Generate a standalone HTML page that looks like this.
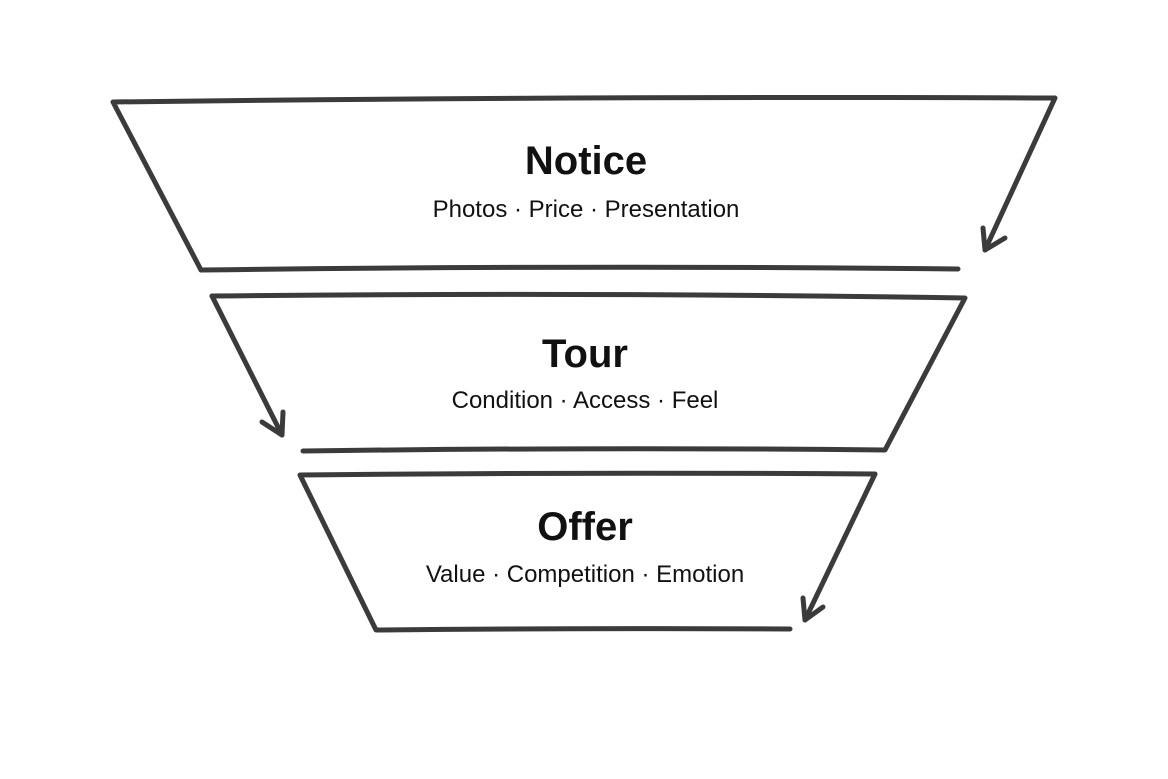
<!DOCTYPE html>
<html><head><meta charset="utf-8"><style>
html,body{margin:0;padding:0;background:#fff;}
svg{display:block;}
text{font-family:"Liberation Sans",sans-serif;fill:#111;text-anchor:middle;}
.t{font-size:40px;font-weight:bold;}
.s{font-size:24px;}
</style></head><body>
<svg width="1168" height="779" viewBox="0 0 1168 779" xmlns="http://www.w3.org/2000/svg">
<g fill="none" stroke="#3b3b3b" stroke-width="5" stroke-linecap="round" stroke-linejoin="round">
<!-- top -->
<path d="M201,270 L113,102 Q580,96 1055,98 L985,250"/>
<path d="M201,270 Q580,265 958,269"/>
<path d="M983,228 L985,250 L1005,238"/>
<!-- middle -->
<path d="M212,296 Q590,292 965,298 L885,450 Q600,447 303,451"/>
<path d="M212,296 L282,435"/>
<path d="M262,422 L282,435 L283,412"/>
<!-- bottom -->
<path d="M875,474 Q590,472 300,475 L376,630 Q590,628 790,629"/>
<path d="M875,474 L805,620"/>
<path d="M803,598 L805,620 L823,607"/>
</g>
<text class="t" x="586" y="174">Notice</text>
<text class="s" x="586" y="217">Photos · Price · Presentation</text>
<text class="t" x="585" y="367">Tour</text>
<text class="s" x="585" y="408">Condition · Access · Feel</text>
<text class="t" x="585" y="540">Offer</text>
<text class="s" x="585" y="582">Value · Competition · Emotion</text>
</svg>
</body></html>
